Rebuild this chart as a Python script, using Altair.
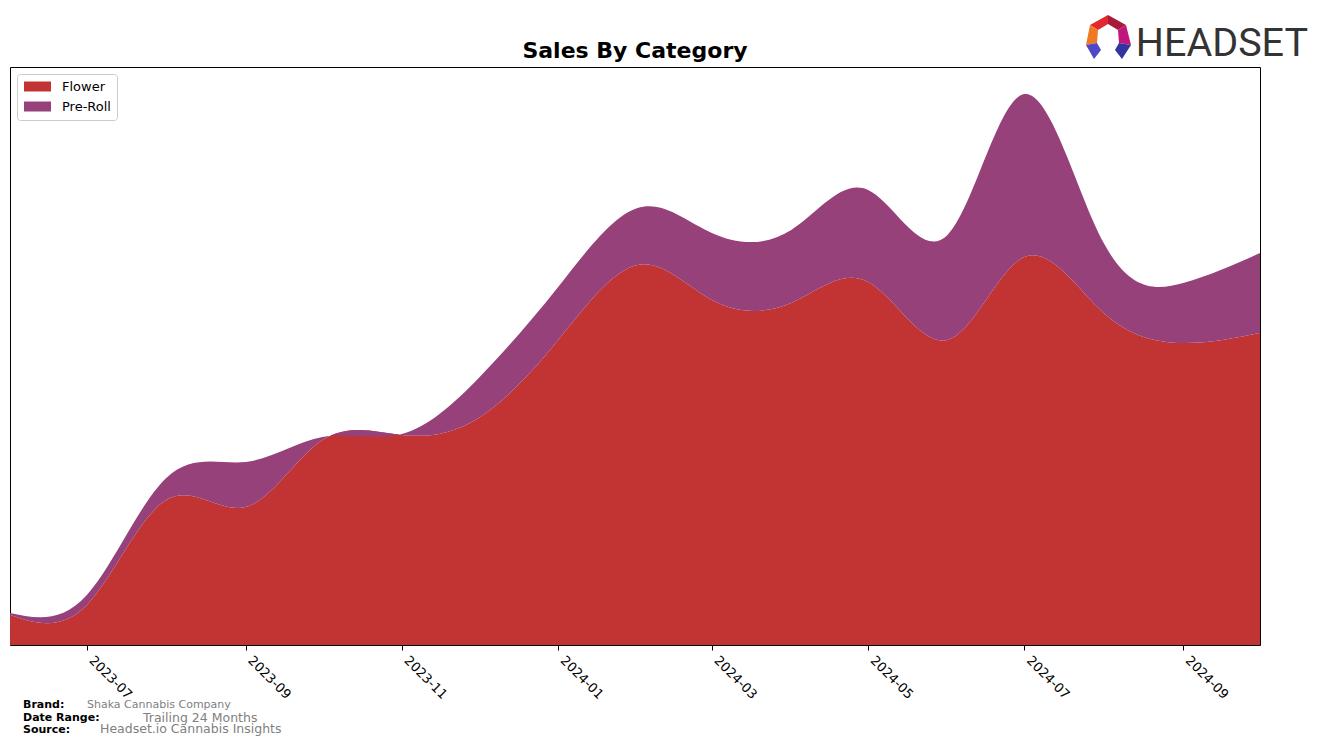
import altair as alt
import pandas as pd

# ---- data ----
months = ["2023-06-01", "2023-07-01", "2023-08-01", "2023-09-01", "2023-10-01",
          "2023-11-01", "2023-12-01", "2024-01-01", "2024-02-01", "2024-03-01",
          "2024-04-01", "2024-05-01", "2024-06-01", "2024-07-01", "2024-08-01",
          "2024-09-01", "2024-10-01"]
flower = [30, 40, 145, 138, 205, 210, 227, 305, 380, 345, 342, 363, 305, 388, 332, 302, 312]
pre_roll = [2, 10, 22, 45, 3, 1, 40, 53, 57, 67, 73, 92, 105, 163, 70, 60, 80]
categories = ["Flower", "Pre-Roll"]
colors = ["#C13433", "#96417A"]
tick_months = [(2023, 7), (2023, 9), (2023, 11), (2024, 1), (2024, 3), (2024, 5), (2024, 7), (2024, 9)]

rows = []
for i, m in enumerate(months):
    rows.append({"date": m, "category": "Flower", "value": flower[i], "ord": 0})
    rows.append({"date": m, "category": "Pre-Roll", "value": pre_roll[i], "ord": 1})
df = pd.DataFrame(rows)

W, H = 1250, 578
FONT = "DejaVu Sans"

area = alt.Chart(df).mark_area(interpolate="natural", clip=True, opacity=1).encode(
    x=alt.X("date:T",
            scale=alt.Scale(type="utc",
                            domain=[alt.DateTime(year=2023, month=6, date=1, utc=True),
                                    alt.DateTime(year=2024, month=10, date=1, utc=True)]),
            axis=alt.Axis(values=[alt.DateTime(year=y, month=mo, date=1, utc=True) for y, mo in tick_months],
                          format="%Y-%m", labelAngle=45, labelAlign="left", labelBaseline="middle",
                          labelFont=FONT, labelFontSize=13, labelColor="black",
                          tickColor="black", tickSize=5, tickWidth=1, labelPadding=8, labelOffset=4,
                          domain=False, grid=False, title=None)),
    y=alt.Y("value:Q", stack="zero", scale=alt.Scale(domain=[0, H], nice=False, zero=True), axis=None),
    color=alt.Color("category:N",
                    scale=alt.Scale(domain=categories, range=colors),
                    legend=alt.Legend(title=None, orient="none", legendX=7, legendY=7,
                                      fillColor="white", strokeColor="#cccccc", cornerRadius=3,
                                      padding=6, labelFont=FONT, labelFontSize=13, labelColor="black",
                                      symbolType="M-2.7,-1H2.7V1H-2.7Z", symbolSize=100,
                                      symbolStrokeWidth=0, symbolOpacity=1, symbolOffset=8,
                                      labelOffset=18, rowPadding=6)),
    order=alt.Order("ord:Q"),
)

one = pd.DataFrame({"k": [0]})

def txt(text, x, y, size, color="black", weight="normal", align="left", font=FONT):
    return alt.Chart(one).mark_text(text=text, align=align, baseline="alphabetic",
                                    font=font, fontSize=size, color=color, fontWeight=weight).encode(
        x=alt.value(x), y=alt.value(y))

title = txt("Sales By Category", W / 2, -9, 22, weight="bold", align="center")
footer = [
    txt("Brand:", 13, 641, 11, weight="bold"),
    txt("Shaka Cannabis Company", 77, 641, 11, color="#808080"),
    txt("Date Range:", 13, 654, 11, weight="bold"),
    txt("Trailing 24 Months", 133, 654.5, 12.5, color="#808080"),
    txt("Source:", 13, 666, 11, weight="bold"),
    txt("Headset.io Cannabis Insights", 90, 666, 12.5, color="#808080"),
]
logo_text = txt("HEADSET", 1298, -11, 39.5, color="#333333", font="Roboto", align="right")

# logo icon pieces, coordinates relative to icon center (pixel units, size=4 -> scale 1)
logo_parts = [
    ("M-18,-12L0,-22L0,-13L-10,-7Z", "#E0282E"),
    ("M0,-22L18,-12L10,-7L0,-13Z", "#A81C3A"),
    ("M-18,-12L-10,-7L-11,6L-22,8Z", "#F07A22"),
    ("M18,-12L23,8L11,6L10,-7Z", "#C0177F"),
    ("M-22,8L-11,6L-7,13L-14,22Z", "#4F46C8"),
    ("M23,8L11,6L7,13L14,22Z", "#33349E"),
]
logo_marks = [
    alt.Chart(one).mark_point(shape=p, filled=True, size=4, opacity=1, strokeWidth=0, color=c).encode(
        x=alt.value(1098), y=alt.value(-30))
    for p, c in logo_parts
]

chart = alt.layer(area, title, *footer, logo_text, *logo_marks).properties(
    width=W, height=H,
    autosize=alt.AutoSizeParams(type="none"),
    padding={"left": 10, "top": 67, "right": 64, "bottom": 101},
).configure_view(stroke="black", strokeWidth=1)

chart.save("out.html", embed_options={"renderer": "svg", "actions": False})
